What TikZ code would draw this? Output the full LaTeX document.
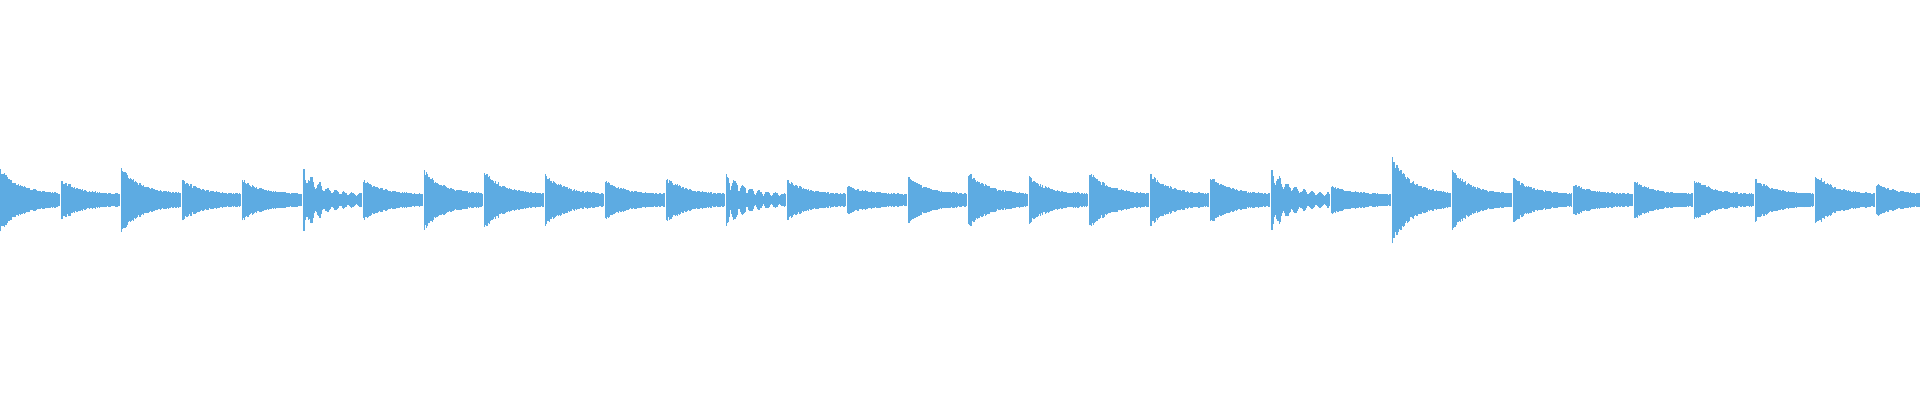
\documentclass[tikz,border=0pt]{standalone}
\definecolor{wave}{RGB}{93,171,226}
\tikzset{
    sample/.style = {draw=wave, line width=1.2pt}
}
\begin{document}
\begin{tikzpicture}[x=1pt, y=1pt]
    \useasboundingbox (0,0) rectangle (1920,400);
    \pgfmathsetseed{7}

    % Segments: index / peak half-height / tremolo
    \foreach \s/\a/\k in {0/32/0, 1/21/0, 2/34/0, 3/21/0, 4/21/0, 5/34/1, 6/21/0, 7/31/0,
                          8/29/0, 9/27/0, 10/20/0, 11/23/0, 12/29/1, 13/21/0, 14/15/0, 15/24/0,
                          16/29/0, 17/24/0, 18/29/0, 19/27/0, 20/24/0, 21/35/1, 22/15/0, 23/44/0,
                          24/31/0, 25/24/0, 26/17/0, 27/20/0, 28/21/0, 29/22/0, 30/27/0, 31/17/0} {
        \foreach \i in {0,0.8,...,59} {
            \pgfmathsetmacro{\h}{(6 + (\a-6)*exp(-\i/20))*(0.82+0.18*rnd)}
            \ifnum\k=1
                \pgfmathsetmacro{\h}{\h*(0.45+0.55*abs(cos(\i*22)))}
            \fi
            \draw[sample] (60.5*\s+\i+0.6, 200-\h) -- (60.5*\s+\i+0.6, 200+\h);
        }
    }
\end{tikzpicture}
\end{document}
